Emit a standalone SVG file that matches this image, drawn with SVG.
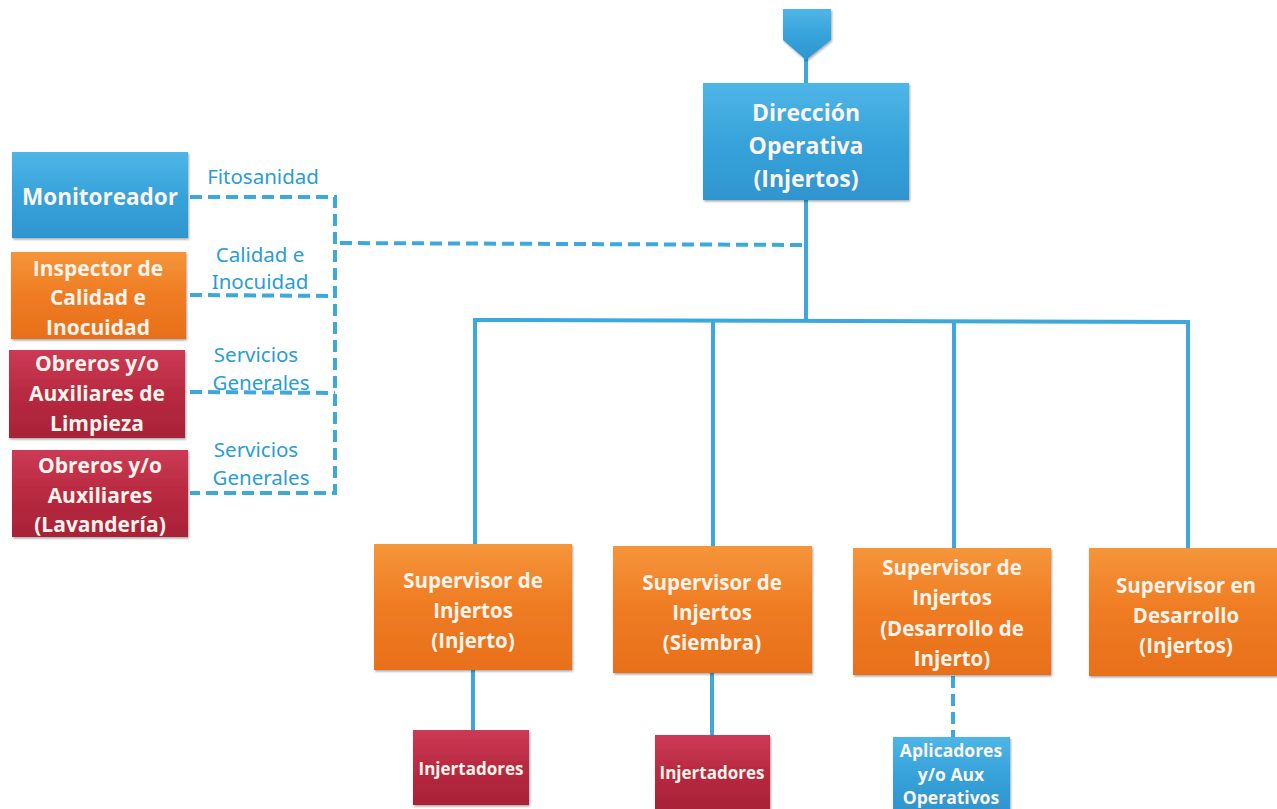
<svg xmlns="http://www.w3.org/2000/svg" width="1277" height="809" viewBox="0 0 1277 809">
<defs>
<linearGradient id="gb" x1="0" y1="0" x2="0" y2="1"><stop offset="0" stop-color="#4fb6e6"/><stop offset="0.5" stop-color="#37a3db"/><stop offset="1" stop-color="#2f95cf"/></linearGradient>
<linearGradient id="go" x1="0" y1="0" x2="0" y2="1"><stop offset="0" stop-color="#f5953a"/><stop offset="0.5" stop-color="#ef7b22"/><stop offset="1" stop-color="#e8701c"/></linearGradient>
<linearGradient id="gr" x1="0" y1="0" x2="0" y2="1"><stop offset="0" stop-color="#cc3a55"/><stop offset="0.5" stop-color="#b82a40"/><stop offset="1" stop-color="#a82238"/></linearGradient>
<filter id="sh" x="-5%" y="-5%" width="110%" height="115%"><feDropShadow dx="1" dy="1.5" stdDeviation="1.2" flood-color="#000" flood-opacity="0.35"/></filter>
</defs>
<style>
.b{fill:url(#gb);filter:url(#sh)}
.o{fill:url(#go);filter:url(#sh)}
.r{fill:url(#gr);filter:url(#sh)}
.t{font-family:"Open Sans",Lato,"Liberation Sans",sans-serif;font-weight:bold;fill:#fbf4ec;text-anchor:middle;dominant-baseline:central}
.lab{font-family:"Noto Sans","Open Sans",sans-serif;fill:#2a9dd2;font-size:20.5px;text-anchor:middle;dominant-baseline:central}
.s{stroke:#3ca8dc;stroke-width:4;fill:none}
.d{stroke:#3ca8dc;stroke-width:4;fill:none;stroke-dasharray:12 6}
</style>
<g id="connectors">
<line class="s" x1="806" y1="58" x2="806" y2="84"/>
<line class="s" x1="806" y1="199" x2="806" y2="322"/>
<line class="s" x1="473" y1="320" x2="1190" y2="322"/>
<line class="s" x1="475" y1="320" x2="475" y2="545"/>
<line class="s" x1="713" y1="321" x2="713" y2="547"/>
<line class="s" x1="954" y1="321" x2="954" y2="549"/>
<line class="s" x1="1188" y1="322" x2="1188" y2="549"/>
<line class="s" x1="473" y1="669" x2="473" y2="731"/>
<line class="s" x1="712" y1="672" x2="712" y2="736"/>
<line class="d" x1="953" y1="676" x2="953" y2="738"/>
<line class="d" x1="340" y1="243" x2="806" y2="245"/>
<polyline class="d" points="190,197 335,197 335,493 190,493"/>
<line class="d" x1="190" y1="295" x2="335" y2="296"/>
<line class="d" x1="190" y1="392" x2="335" y2="393"/>
<text class="lab" x="263" y="176">Fitosanidad</text>
<text class="lab" x="260" y="254">Calidad e</text>
<text class="lab" x="260" y="281">Inocuidad</text>
<text class="lab" x="256" y="354">Servicios</text>
<text class="lab" x="261" y="382">Generales</text>
<text class="lab" x="256" y="449">Servicios</text>
<text class="lab" x="261" y="477">Generales</text>
</g>
<g id="top-marker"><polygon class="b" points="783,9 831,9 831,40 806,60 783,40"/></g>
<g id="direccion"><rect class="b" x="703" y="83" width="206" height="117"/>
<text class="t" font-size="23" x="806" y="112">Dirección</text><text class="t" font-size="23" x="806" y="145">Operativa</text><text class="t" font-size="23" x="806" y="178">(Injertos)</text></g>
<g id="monitoreador"><rect class="b" x="12" y="152" width="176" height="86"/>
<text class="t" font-size="22.5" x="100" y="196">Monitoreador</text></g>
<g id="inspector"><rect class="o" x="11" y="252" width="175" height="87"/>
<text class="t" font-size="21" x="98" y="268">Inspector de</text><text class="t" font-size="21" x="98" y="297">Calidad e</text><text class="t" font-size="21" x="98" y="327">Inocuidad</text></g>
<g id="obreros-limpieza"><rect class="r" x="9" y="350" width="176" height="88"/>
<text class="t" font-size="21" x="97" y="363">Obreros y/o</text><text class="t" font-size="21" x="97" y="393">Auxiliares de</text><text class="t" font-size="21" x="97" y="423">Limpieza</text></g>
<g id="obreros-lavanderia"><rect class="r" x="12" y="450" width="176" height="87"/>
<text class="t" font-size="21" x="100" y="465">Obreros y/o</text><text class="t" font-size="21" x="100" y="495">Auxiliares</text><text class="t" font-size="21" x="100" y="524">(Lavandería)</text></g>
<g id="sup-injerto"><rect class="o" x="374" y="544" width="198" height="126"/>
<text class="t" font-size="20.5" x="473" y="580">Supervisor de</text><text class="t" font-size="20.5" x="473" y="610">Injertos</text><text class="t" font-size="20.5" x="473" y="640">(Injerto)</text></g>
<g id="sup-siembra"><rect class="o" x="613" y="546" width="199" height="127"/>
<text class="t" font-size="20.5" x="712" y="582">Supervisor de</text><text class="t" font-size="20.5" x="712" y="612">Injertos</text><text class="t" font-size="20.5" x="712" y="642">(Siembra)</text></g>
<g id="sup-desarrollo-injerto"><rect class="o" x="853" y="548" width="198" height="127"/>
<text class="t" font-size="20.5" x="952" y="567">Supervisor de</text><text class="t" font-size="20.5" x="952" y="597">Injertos</text><text class="t" font-size="20.5" x="952" y="628">(Desarrollo de</text><text class="t" font-size="20.5" x="952" y="658">Injerto)</text></g>
<g id="sup-en-desarrollo"><rect class="o" x="1089" y="548" width="188" height="128"/>
<text class="t" font-size="20.5" x="1186" y="585">Supervisor en</text><text class="t" font-size="20.5" x="1186" y="615">Desarrollo</text><text class="t" font-size="20.5" x="1186" y="645">(Injertos)</text></g>
<g id="injertadores-1"><rect class="r" x="413" y="730" width="116" height="75"/>
<text class="t" font-size="17" x="471" y="768">Injertadores</text></g>
<g id="injertadores-2"><rect class="r" x="655" y="735" width="115" height="74"/>
<text class="t" font-size="17" x="712" y="772">Injertadores</text></g>
<g id="aplicadores"><rect class="b" x="893" y="737" width="117" height="72"/>
<text class="t" font-size="17.5" x="951" y="750">Aplicadores</text><text class="t" font-size="17.5" x="951" y="774">y/o Aux</text><text class="t" font-size="17.5" x="951" y="797">Operativos</text></g>
</svg>
